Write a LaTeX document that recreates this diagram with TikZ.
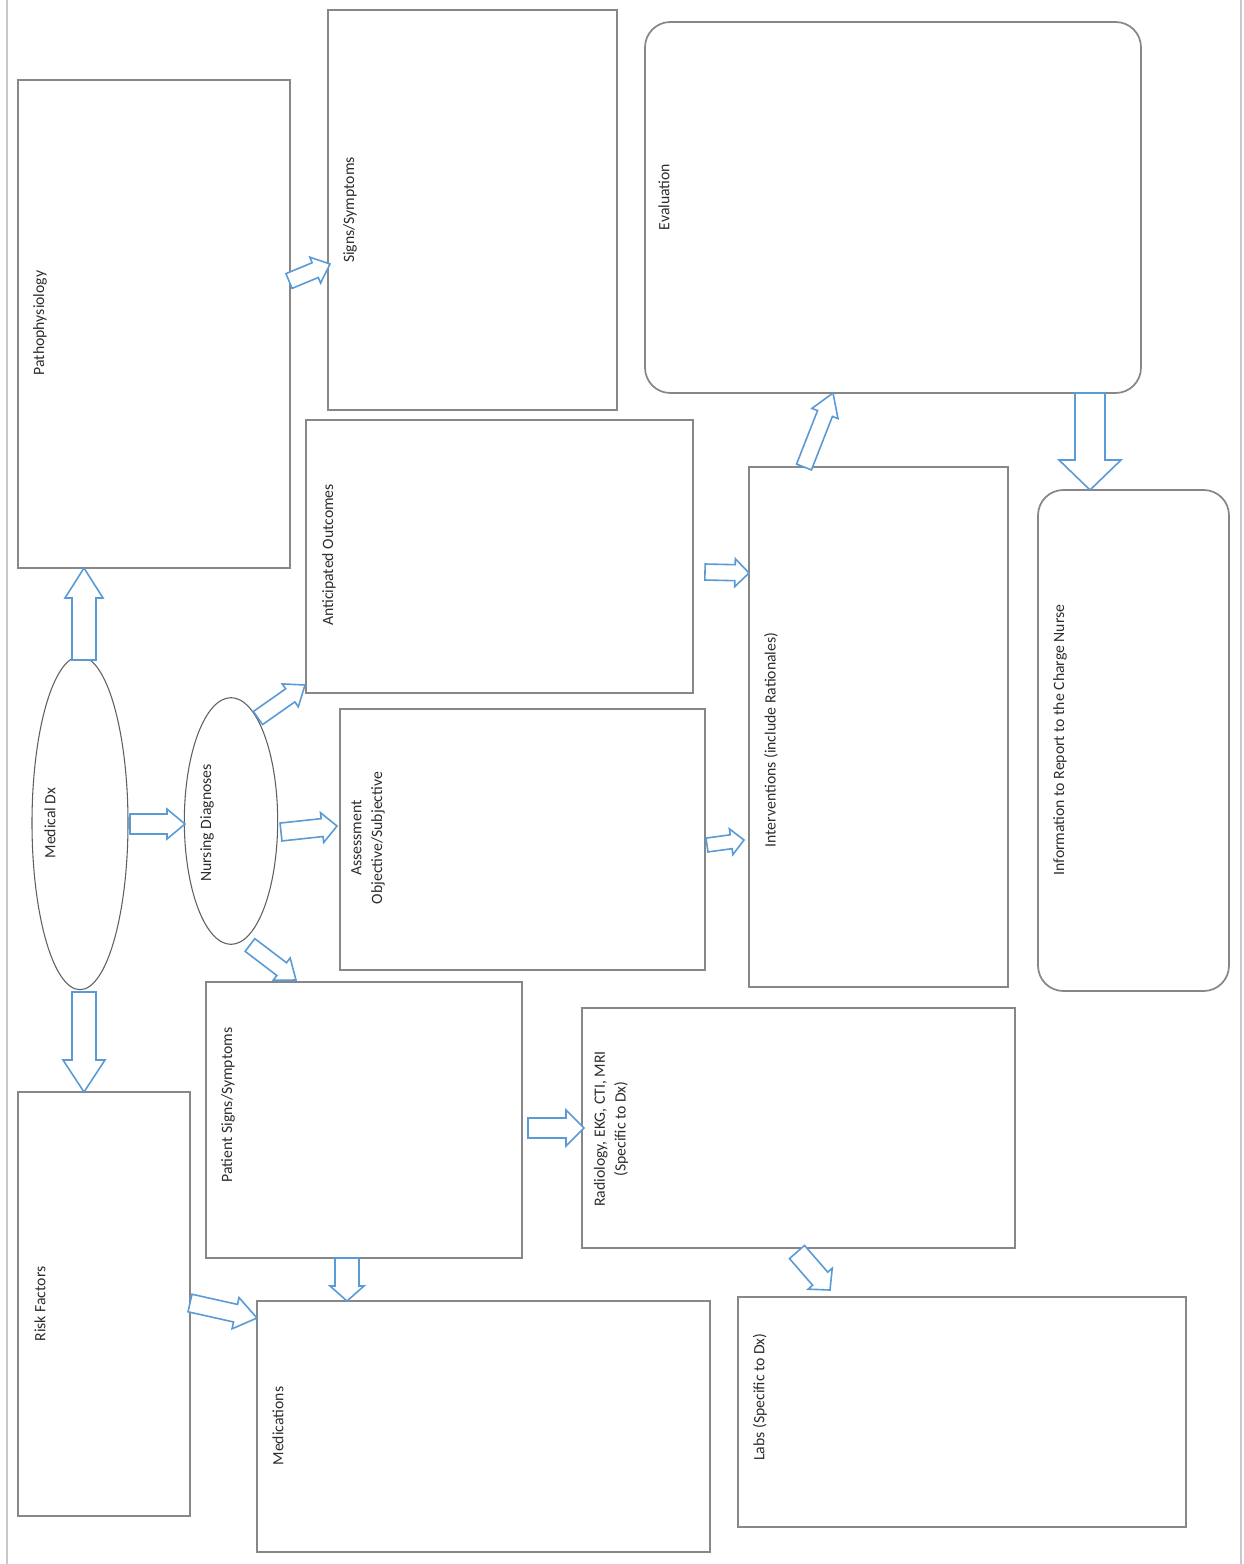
\documentclass[tikz,border=0pt]{standalone}
\usepackage{fontspec}
\setmainfont{Carlito}
\usetikzlibrary{calc,fit,shapes.geometric}
\definecolor{boxgray}{RGB}{135,135,135}
\definecolor{ovalgray}{RGB}{95,95,95}
\definecolor{pagegray}{RGB}{200,200,200}
\definecolor{arrblue}{RGB}{91,155,213}
\definecolor{txt}{RGB}{45,45,45}
\tikzset{
  box/.style={draw=boxgray, line width=1.3pt, inner sep=0pt},
  rbox/.style={box, rounded corners=19pt},
  oval/.style={draw=ovalgray, line width=0.8pt, ellipse, inner sep=0pt},
  lbl/.style={rotate=90, font=\fontsize{11.8}{15.5}\selectfont, text=txt, inner sep=0pt, align=center},
  barrow/.style={draw=arrblue, line width=1.2pt, fill=white, line join=miter},
  pageline/.style={draw=pagegray, line width=1.4pt},
}
% start, end, shaft half-width, head half-width, head length (all in px)
\newcommand{\blockarrow}[5]{%
  \pgfmathsetlengthmacro\bsw{0.75*#3}%
  \pgfmathsetlengthmacro\bhw{0.75*#4}%
  \pgfmathsetlengthmacro\bhl{0.75*#5}%
  \coordinate (bn) at ($(#2)!\bhl!(#1)$);
  \draw[barrow] ($(#1)!\bsw!-90:(#2)$) -- ($(bn)!\bsw!-90:(#2)$) -- ($(bn)!\bhw!-90:(#2)$) -- (#2)
    -- ($(bn)!\bhw!90:(#2)$) -- ($(bn)!\bsw!90:(#2)$) -- ($(#1)!\bsw!90:(#2)$) -- cycle;
}
\begin{document}
\begin{tikzpicture}[x=0.75pt,y=-0.75pt]
\useasboundingbox (0,0) rectangle (1243,1564);
% page edges
\coordinate (pl1) at (7,0); \coordinate (pl2) at (7,1564);
\coordinate (pr1) at (1241,0); \coordinate (pr2) at (1241,1564);
\draw[pageline] (pl1) -- (pl2);
\draw[pageline] (pr1) -- (pr2);

% boxes
\node[box, fit={(18,80)(290,568)}] (patho) {};
\node[box, fit={(328,10)(617,410)}] (signs) {};
\node[rbox, fit={(645,22)(1141,393)}] (eval) {};
\node[box, fit={(306,420)(693,693)}] (antic) {};
\node[box, fit={(340,709)(705,970)}] (assess) {};
\node[box, fit={(749,467)(1008,987)}] (interv) {};
\node[rbox, fit={(1038,490)(1229,991)}] (info) {};
\node[box, fit={(206,982)(522,1258)}] (psigns) {};
\node[box, fit={(582,1008)(1015,1248)}] (radio) {};
\node[box, fit={(738,1297)(1186,1527)}] (labs) {};
\node[box, fit={(18,1092)(190,1516)}] (risk) {};
\node[box, fit={(257,1301)(710,1552)}] (meds) {};

% ellipses
\node[oval, minimum width=72pt, minimum height=250pt] (medx) at (80,823) {};
\node[oval, minimum width=70pt, minimum height=185pt] (nurs) at (231,821) {};

% labels
\node[lbl] (tpatho) at (40,323) {Pathophysiology};
\node[lbl] (tsigns) at (350,210) {Signs/Symptoms};
\node[lbl] (teval) at (664,197) {Evaluation};
\node[lbl] (tantic) at (329,555) {Anticipated Outcomes};
\node[lbl] (tassess) at (368,838) {Assessment\\Objective/Subjective};
\node[lbl] (tinterv) at (771,740) {Interventions (include Rationales)};
\node[lbl] (tinfo) at (1060,740) {Information to Report to the Charge Nurse};
\node[lbl] (tpsigns) at (228,1105) {Patient Signs/Symptoms};
\node[lbl] (tradio) at (611,1129) {Radiology, EKG, CTI, MRI\\(Specific to Dx)};
\node[lbl] (tlabs) at (760,1397) {Labs (Specific to Dx)};
\node[lbl] (trisk) at (40,1304) {Risk Factors};
\node[lbl] (tmeds) at (278,1426) {Medications};
\node[lbl] (tmedx) at (50,823) {Medical Dx};
\node[lbl] (tnurs) at (207,823) {Nursing Diagnoses};

% arrow end points
\coordinate (a1s) at (84,660);   \coordinate (a1e) at (84,568);
\coordinate (a2s) at (84,992);   \coordinate (a2e) at (84,1092);
\coordinate (a3s) at (130,824);  \coordinate (a3e) at (185,824);
\coordinate (a4s) at (258,718);  \coordinate (a4e) at (305,685);
\coordinate (a5s) at (281,832);  \coordinate (a5e) at (337,826);
\coordinate (a6s) at (250,945);  \coordinate (a6e) at (296,980);
\coordinate (a7s) at (289,281);  \coordinate (a7e) at (330,264);
\coordinate (a8s) at (705,572);  \coordinate (a8e) at (749,573);
\coordinate (a9s) at (707,845);  \coordinate (a9e) at (744,840);
\coordinate (a10s) at (804,467); \coordinate (a10e) at (833,393);
\coordinate (a11s) at (1090,393);\coordinate (a11e) at (1090,490);
\coordinate (a12s) at (528,1128);\coordinate (a12e) at (584,1128);
\coordinate (a13s) at (347,1258);\coordinate (a13e) at (347,1301);
\coordinate (a14s) at (190,1303);\coordinate (a14e) at (257,1318);
\coordinate (a15s) at (797,1252);\coordinate (a15e) at (830,1290);

% block arrows
\blockarrow{a1s}{a1e}{12}{19}{30}
\blockarrow{a2s}{a2e}{12}{21}{32}
\blockarrow{a3s}{a3e}{10}{15}{18}
\blockarrow{a4s}{a4e}{8}{14}{18}
\blockarrow{a5s}{a5e}{9}{15}{15}
\blockarrow{a6s}{a6e}{8}{14}{18}
\blockarrow{a7s}{a7e}{8}{14}{16}
\blockarrow{a8s}{a8e}{8}{14}{14}
\blockarrow{a9s}{a9e}{7}{13}{13}
\blockarrow{a10s}{a10e}{8}{14}{22}
\blockarrow{a11s}{a11e}{15}{31}{30}
\blockarrow{a12s}{a12e}{10}{18}{18}
\blockarrow{a13s}{a13e}{12}{17}{15}
\blockarrow{a14s}{a14e}{9}{16}{22}
\blockarrow{a15s}{a15e}{10}{16}{15}
\end{tikzpicture}
\end{document}
